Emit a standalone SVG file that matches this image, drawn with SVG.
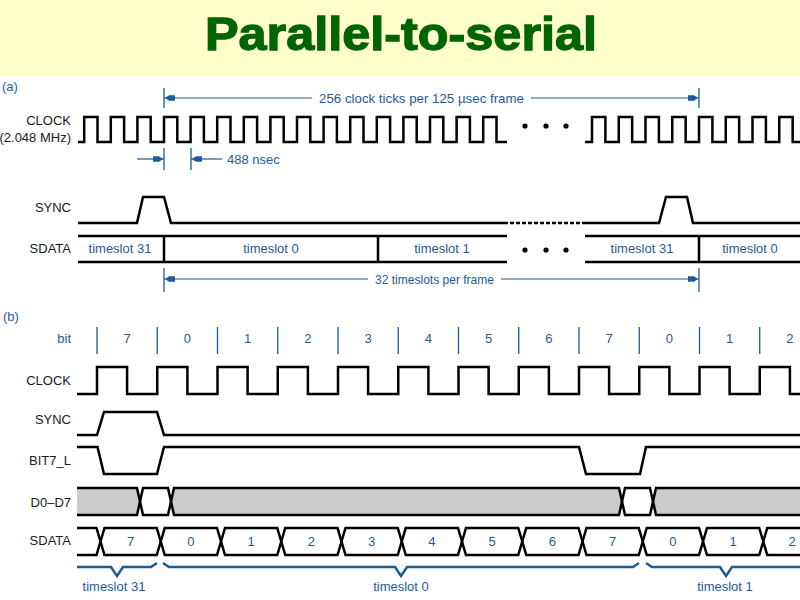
<svg xmlns="http://www.w3.org/2000/svg" width="800" height="600" viewBox="0 0 800 600">
<style>
.wave{fill:none;stroke:#000;stroke-width:2.5;stroke-linejoin:miter}
.gray{fill:#cccccc;stroke:none}
.dim{fill:none;stroke:#1f5b96;stroke-width:1.2}
.tick{fill:none;stroke:#1f5b96;stroke-width:1.3}
.brace{fill:none;stroke:#1f5b96;stroke-width:2.5;stroke-linejoin:miter}
.lbl{font-family:"Liberation Sans",Arial,sans-serif;font-size:13px;fill:#1a1a1a;text-anchor:end}
.blue{font-family:"Liberation Sans",Arial,sans-serif;font-size:13px;fill:#1f5b96}
.mid{text-anchor:middle}
.title{font-family:"Liberation Sans",Arial,sans-serif;font-weight:bold;font-size:46px;fill:#006400;stroke:#006400;stroke-width:1.3}
</style>
<defs>
<marker id="arr" viewBox="-12 -4 13 8" refX="0" refY="0" markerWidth="13" markerHeight="8" markerUnits="userSpaceOnUse" orient="auto">
<path d="M-1,0 L-5,-2.8 L-11,-2.8 L-11,2.8 L-5,2.8 Z" fill="#1f5b96"/>
</marker>
</defs>
<rect x="0" y="0" width="800" height="600" fill="#ffffcc"/>
<text id="title" class="title" x="205" y="50" textLength="392" lengthAdjust="spacingAndGlyphs">Parallel-to-serial</text>
<rect x="0" y="76" width="800" height="524" fill="#ffffff"/>

<g id="part-a">
<text class="blue" x="2" y="91" font-size="12">(a)</text>
<g id="a-clock">
<text class="lbl" x="71" y="125">CLOCK</text>
<text class="lbl" x="71" y="142">(2.048 MHz)</text>
<path class="wave" d="M78,142 H84.2 V117 H97.5 V142 H110.8 V117 H124.1 V142 H137.4 V117 H150.7 V142 H164 V117 H177.3 V142 H190.6 V117 H203.9 V142 H217.2 V117 H230.5 V142 H243.8 V117 H257.1 V142 H270.4 V117 H283.7 V142 H297 V117 H310.3 V142 H323.6 V117 H336.9 V142 H350.2 V117 H363.5 V142 H376.8 V117 H390.1 V142 H403.4 V117 H416.7 V142 H430 V117 H443.3 V142 H456.6 V117 H469.9 V142 H483.2 V117 H496.5 V142 H507"/>
<path class="wave" d="M585,142 H592 V117 H605.4 V142 H618.75 V117 H632.15 V142 H645.5 V117 H658.9 V142 H672.25 V117 H685.65 V142 H699 V117 H712.4 V142 H725.75 V117 H739.15 V142 H752.5 V117 H765.9 V142 H779.25 V117 H792.65 V142 H800"/>
<circle cx="525" cy="126" r="2.6"/><circle cx="546" cy="126" r="2.6"/><circle cx="566" cy="126" r="2.6"/>
</g>
<g id="a-sync">
<text class="lbl" x="71" y="212">SYNC</text>
<path class="wave" d="M78,223 H137 L143,197 H164 L171,223 H508"/>
<path class="wave" d="M510,223 H585" stroke-dasharray="4,2"/>
<path class="wave" d="M585,223 H659 L666,197 H687 L693,223 H800"/>
</g>
<g id="a-sdata">
<text class="lbl" x="71" y="253">SDATA</text>
<path class="wave" d="M78,236 H507 M78,262 H507 M585,236 H800 M585,262 H800 M164,236 V262 M378,236 V262 M699,236 V262"/>
<circle cx="525" cy="250" r="2.6"/><circle cx="546" cy="250" r="2.6"/><circle cx="566" cy="250" r="2.6"/>
<text class="blue mid" x="120" y="253">timeslot 31</text>
<text class="blue mid" x="271" y="253">timeslot 0</text>
<text class="blue mid" x="442" y="253">timeslot 1</text>
<text class="blue mid" x="642" y="253">timeslot 31</text>
<text class="blue mid" x="750" y="253">timeslot 0</text>
</g>
</g>

<g id="connectors">
<path class="tick" d="M164,88 V108 M699,88 V108"/>
<line class="dim" x1="312" y1="98" x2="164" y2="98" marker-end="url(#arr)"/>
<line class="dim" x1="531" y1="98" x2="699" y2="98" marker-end="url(#arr)"/>
<text class="blue mid" x="421.5" y="103" textLength="205" lengthAdjust="spacingAndGlyphs">256 clock ticks per 125 µsec frame</text>
<path class="tick" d="M164,148 V170 M191,148 V170"/>
<line class="dim" x1="137" y1="159" x2="164" y2="159" marker-end="url(#arr)"/>
<line class="dim" x1="222" y1="159" x2="191" y2="159" marker-end="url(#arr)"/>
<text class="blue" x="227" y="164">488 nsec</text>
<path class="tick" d="M164,268 V292 M699,268 V292"/>
<line class="dim" x1="368" y1="279" x2="164" y2="279" marker-end="url(#arr)"/>
<line class="dim" x1="501" y1="279" x2="699" y2="279" marker-end="url(#arr)"/>
<text class="blue mid" x="434.5" y="284" textLength="119" lengthAdjust="spacingAndGlyphs">32 timeslots per frame</text>
</g>

<g id="part-b">
<text class="blue" x="3" y="321" font-size="12">(b)</text>
<g id="b-bit">
<text class="blue" x="71" y="343" text-anchor="end">bit</text>
<path class="tick" d="M97,327 V354 M217.5,327 V354 M277.75,327 V354 M338,327 V354 M398.25,327 V354 M458.5,327 V354 M518.75,327 V354 M579,327 V354 M639.25,327 V354 M759.75,327 V354"/>
<path class="tick" stroke-width="2.6" d="M157.25,327 V354 M699.5,327 V354"/>
<text class="blue mid" x="127.1" y="343">7</text>
<text class="blue mid" x="187.4" y="343">0</text>
<text class="blue mid" x="247.6" y="343">1</text>
<text class="blue mid" x="307.9" y="343">2</text>
<text class="blue mid" x="368.1" y="343">3</text>
<text class="blue mid" x="428.4" y="343">4</text>
<text class="blue mid" x="488.6" y="343">5</text>
<text class="blue mid" x="548.9" y="343">6</text>
<text class="blue mid" x="609.1" y="343">7</text>
<text class="blue mid" x="669.4" y="343">0</text>
<text class="blue mid" x="729.6" y="343">1</text>
<text class="blue mid" x="789.9" y="343">2</text>
</g>
<g id="b-clock">
<text class="lbl" x="71" y="385">CLOCK</text>
<path class="wave" d="M77,394 H97 V367 H127.1 V394 H157.25 V367 H187.4 V394 H217.5 V367 H247.6 V394 H277.75 V367 H307.9 V394 H338 V367 H368.1 V394 H398.25 V367 H428.4 V394 H458.5 V367 H488.6 V394 H518.75 V367 H548.9 V394 H579 V367 H609.1 V394 H639.25 V367 H669.4 V394 H699.5 V367 H729.6 V394 H759.75 V367 H789.9 V394 H800"/>
</g>
<g id="b-sync">
<text class="lbl" x="71" y="424">SYNC</text>
<path class="wave" d="M77,435 H97 L104,412 H157 L164,435 H800"/>
</g>
<g id="b-bit7l">
<text class="lbl" x="71" y="465">BIT7_L</text>
<path class="wave" d="M77,447 H97.5 L104,474 H157 L164,447 H579 L586,474 H640 L646,447 H800"/>
</g>
<g id="b-d0d7">
<text class="lbl" x="71" y="507">D0–D7</text>
<polygon class="gray" points="77,488 137,488 140,501.5 137,515 77,515"/>
<polygon class="gray" points="174,488 619,488 622,501.5 619,515 174,515 171,501.5"/>
<polygon class="gray" points="656,488 800,488 800,515 656,515 653,501.5"/>
<path class="wave" d="M77,488 H137 L143,515 H168 L174,488 H619 L625,515 H650 L656,488 H800"/>
<path class="wave" d="M77,515 H137 L143,488 H168 L174,515 H619 L625,488 H650 L656,515 H800"/>
</g>
<g id="b-sdata">
<text class="lbl" x="71" y="545">SDATA</text>
<path class="wave" d="M77,528 H96.5 L100.5,541.5 L96.5,555 H77"/>
<path class="wave" d="M800,528 H767.25 L763.25,541.5 L767.25,555 H800"/>
<g class="wave">
<polygon points="100.5,541.5 104.5,528 156.75,528 160.75,541.5 156.75,555 104.5,555"/>
<polygon points="160.75,541.5 164.75,528 217,528 221,541.5 217,555 164.75,555"/>
<polygon points="221,541.5 225,528 277.25,528 281.25,541.5 277.25,555 225,555"/>
<polygon points="281.25,541.5 285.25,528 337.5,528 341.5,541.5 337.5,555 285.25,555"/>
<polygon points="341.5,541.5 345.5,528 397.75,528 401.75,541.5 397.75,555 345.5,555"/>
<polygon points="401.75,541.5 405.75,528 458,528 462,541.5 458,555 405.75,555"/>
<polygon points="462,541.5 466,528 518.25,528 522.25,541.5 518.25,555 466,555"/>
<polygon points="522.25,541.5 526.25,528 578.5,528 582.5,541.5 578.5,555 526.25,555"/>
<polygon points="582.5,541.5 586.5,528 638.75,528 642.75,541.5 638.75,555 586.5,555"/>
<polygon points="642.75,541.5 646.75,528 699,528 703,541.5 699,555 646.75,555"/>
<polygon points="703,541.5 707,528 759.25,528 763.25,541.5 759.25,555 707,555"/>
</g>
<text class="blue mid" x="130.6" y="546">7</text>
<text class="blue mid" x="190.9" y="546">0</text>
<text class="blue mid" x="251.1" y="546">1</text>
<text class="blue mid" x="311.4" y="546">2</text>
<text class="blue mid" x="371.6" y="546">3</text>
<text class="blue mid" x="431.9" y="546">4</text>
<text class="blue mid" x="492.1" y="546">5</text>
<text class="blue mid" x="552.4" y="546">6</text>
<text class="blue mid" x="612.6" y="546">7</text>
<text class="blue mid" x="672.9" y="546">0</text>
<text class="blue mid" x="733.1" y="546">1</text>
<text class="blue mid" x="792" y="546">2</text>
</g>
<g id="b-braces">
<path class="brace" d="M77,567 H111 L117,576 L123,567 H151 L157,563"/>
<path class="brace" d="M163,563 L169,567 H395 L401,576 L407,567 H633 L639,563"/>
<path class="brace" d="M646,563 L652,567 H720 L726,576 L732,567 H800"/>
<text class="blue mid" x="114" y="591">timeslot 31</text>
<text class="blue mid" x="401" y="591">timeslot 0</text>
<text class="blue mid" x="725" y="591">timeslot 1</text>
</g>
</g>
</svg>
